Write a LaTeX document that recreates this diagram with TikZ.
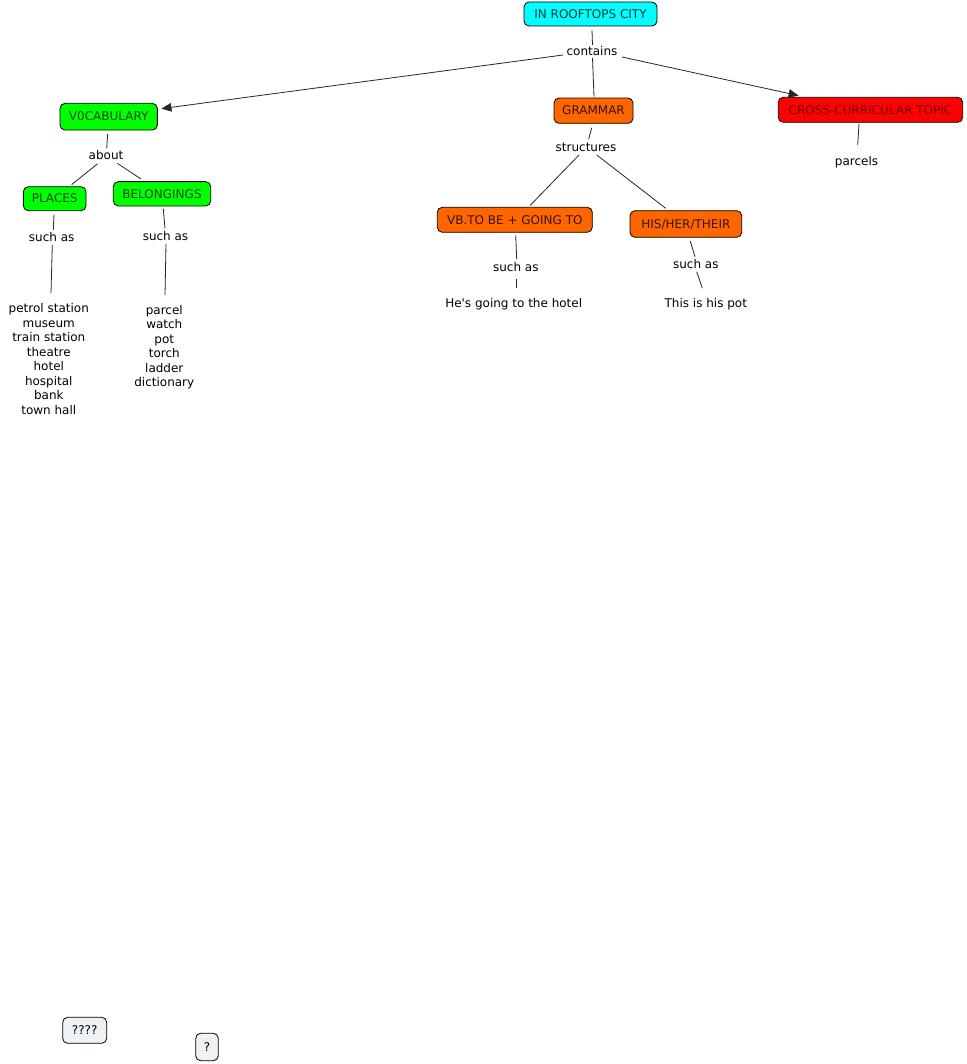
\documentclass[tikz,border=0pt]{standalone}
\usepackage{fontspec}
\setmainfont{DejaVu Sans}
\usetikzlibrary{arrows.meta}
\definecolor{cyanfill}{HTML}{00FFFF}
\definecolor{greenfill}{HTML}{00FF00}
\definecolor{orangefill}{HTML}{FF6600}
\definecolor{redfill}{HTML}{FF0000}
\definecolor{greyfill}{HTML}{EEF2F4}
\definecolor{cyantext}{HTML}{003838}
\definecolor{greentext}{HTML}{0A4A0A}
\definecolor{orangetext}{HTML}{3A1400}
\definecolor{redtext}{HTML}{6A0000}
\begin{document}
\begin{tikzpicture}[x=1pt,y=-1pt,
  font=\fontsize{12}{14.55}\selectfont,
  concept/.style={draw=black, line width=0.8pt, rounded corners=5pt, inner sep=0pt, align=center, text height=9pt, text depth=0.5pt},
  phrase/.style={inner sep=2pt, align=center, text height=10.5pt, text depth=1.5pt},
  textitem/.style={inner sep=2pt, align=center},
  singleitem/.style={inner sep=2pt, align=center, text height=10.5pt, text depth=1.5pt},
  link/.style={line width=0.8pt, black!85},
  arrowlink/.style={link, -{Triangle[length=10pt,width=8.5pt]}}
]
\useasboundingbox (0,0) rectangle (966,1064);
\fill[white] (0,0) rectangle (966,1064);

% concepts
\node[concept, fill=cyanfill, text=cyantext, minimum width=133pt, minimum height=24pt] (city) at (590.5,14) {IN ROOFTOPS CITY};
\node[concept, fill=greenfill, text=greentext, minimum width=97.3pt, minimum height=26.7pt] (vocab) at (108.7,116.7) {V0CABULARY};
\node[concept, fill=orangefill, text=orangetext, minimum width=79pt, minimum height=25.3pt] (grammar) at (593.5,110.7) {GRAMMAR};
\node[concept, fill=redfill, text=redtext, minimum width=184.4pt, minimum height=25pt] (cross) at (870.5,109.8) {CROSS-CURRICULAR TOPIC};
\node[concept, fill=greenfill, text=greentext, minimum width=62.7pt, minimum height=24pt] (places) at (54.7,198.7) {PLACES};
\node[concept, fill=greenfill, text=greentext, minimum width=97.4pt, minimum height=24.3pt] (belong) at (162,193.8) {BELONGINGS};
\node[concept, fill=orangefill, text=orangetext, minimum width=155pt, minimum height=25pt] (vb) at (514.8,219.8) {VB.TO BE + GOING TO};
\node[concept, fill=orangefill, text=orangetext, minimum width=111.7pt, minimum height=26.6pt] (his) at (685.85,224) {HIS/HER/THEIR};
\node[concept, fill=greyfill, text=black, minimum width=44pt, minimum height=26pt] (q4) at (84.7,1030.3) {????};
\node[concept, fill=greyfill, text=black, minimum width=22.6pt, minimum height=27.4pt] (q1) at (207,1047) {?};

% linking phrases
\node[phrase] (contains) at (592,51.5) {contains};
\node[phrase] (about) at (106,155) {about};
\node[phrase] (suchP) at (51.7,237.3) {such as};
\node[phrase] (suchB) at (165.5,236) {such as};
\node[phrase] (structures) at (586,146.7) {structures};
\node[phrase] (suchV) at (515.8,266.7) {such as};
\node[phrase] (suchH) at (695.8,264) {such as};

% text items
\node[textitem, anchor=north] (placelist) at (48.8,301.2) {petrol station\\museum\\train station\\theatre\\hotel\\hospital\\bank\\town hall};
\node[textitem, anchor=north] (belonglist) at (164.3,302.9) {parcel\\watch\\pot\\torch\\ladder\\dictionary};
\node[singleitem] (hotel) at (513.7,302.7) {He\textquotesingle s going to the hotel};
\node[singleitem] (pot) at (705.8,302.7) {This is his pot};
\node[singleitem] (parcels) at (856.5,160.7) {parcels};

% connectors
\draw[link] ([xshift=1.5pt,yshift=-4pt]city.south) -- ([xshift=0.5pt,yshift=6.5pt]contains.center);
\draw[arrowlink] ([xshift=-29pt,yshift=-3.5pt]contains.center) -- ([xshift=3.7pt,yshift=-5.7pt]vocab.north east);
\draw[link] ([xshift=0.5pt,yshift=-6.5pt]contains.center) -- ([xshift=0.5pt,yshift=1pt]grammar.north);
\draw[arrowlink] ([xshift=30pt,yshift=-5.5pt]contains.center) -- ([xshift=20.7pt,yshift=1.3pt]cross.north west);
\draw[link] ([xshift=-1pt,yshift=-3.3pt]vocab.south) -- ([xshift=0.7pt,yshift=6.7pt]about.center);
\draw[link] ([xshift=-8.7pt,yshift=-9pt]about.center) -- ([xshift=17pt,yshift=1.7pt]places.north);
\draw[link] ([xshift=11.3pt,yshift=-8.3pt]about.center) -- ([xshift=-21.3pt,yshift=2.4pt]belong.north);
\draw[link] ([xshift=-0.7pt,yshift=-3.3pt]places.south) -- ([xshift=1.6pt,yshift=7.3pt]suchP.center);
\draw[link] ([xshift=0.6pt,yshift=-7.7pt]suchP.center) -- ([xshift=2.2pt,yshift=7.9pt]placelist.north);
\draw[link] ([xshift=1.3pt,yshift=-2.3pt]belong.south) -- ([xshift=-0.5pt,yshift=7.7pt]suchB.center);
\draw[link] ([xshift=0.5pt,yshift=-8pt]suchB.center) -- ([xshift=0.7pt,yshift=7.9pt]belonglist.north);
\draw[link] ([xshift=-1.8pt,yshift=-4pt]grammar.south) -- ([xshift=2.7pt,yshift=7.7pt]structures.center);
\draw[link] ([xshift=-7pt,yshift=-8.3pt]structures.center) -- ([xshift=15.2pt,yshift=1.3pt]vb.north);
\draw[link] ([xshift=10.7pt,yshift=-8.3pt]structures.center) -- ([xshift=-20.15pt,yshift=2pt]his.north);
\draw[link] ([xshift=0.9pt,yshift=-2.7pt]vb.south) -- ([xshift=0.9pt,yshift=7.4pt]suchV.center);
\draw[link] ([xshift=0.2pt,yshift=-12.6pt]suchV.center) -- ([xshift=2.3pt,yshift=14.4pt]hotel.center);
\draw[link] ([xshift=4.45pt,yshift=-3.4pt]his.south) -- ([xshift=-0.8pt,yshift=7.3pt]suchH.center);
\draw[link] ([xshift=0.9pt,yshift=-7.7pt]suchH.center) -- ([xshift=-3.5pt,yshift=14.4pt]pot.center);
\draw[link] ([xshift=-11.5pt,yshift=-1pt]cross.south) -- ([xshift=1.2pt,yshift=15.7pt]parcels.center);
\end{tikzpicture}
\end{document}
